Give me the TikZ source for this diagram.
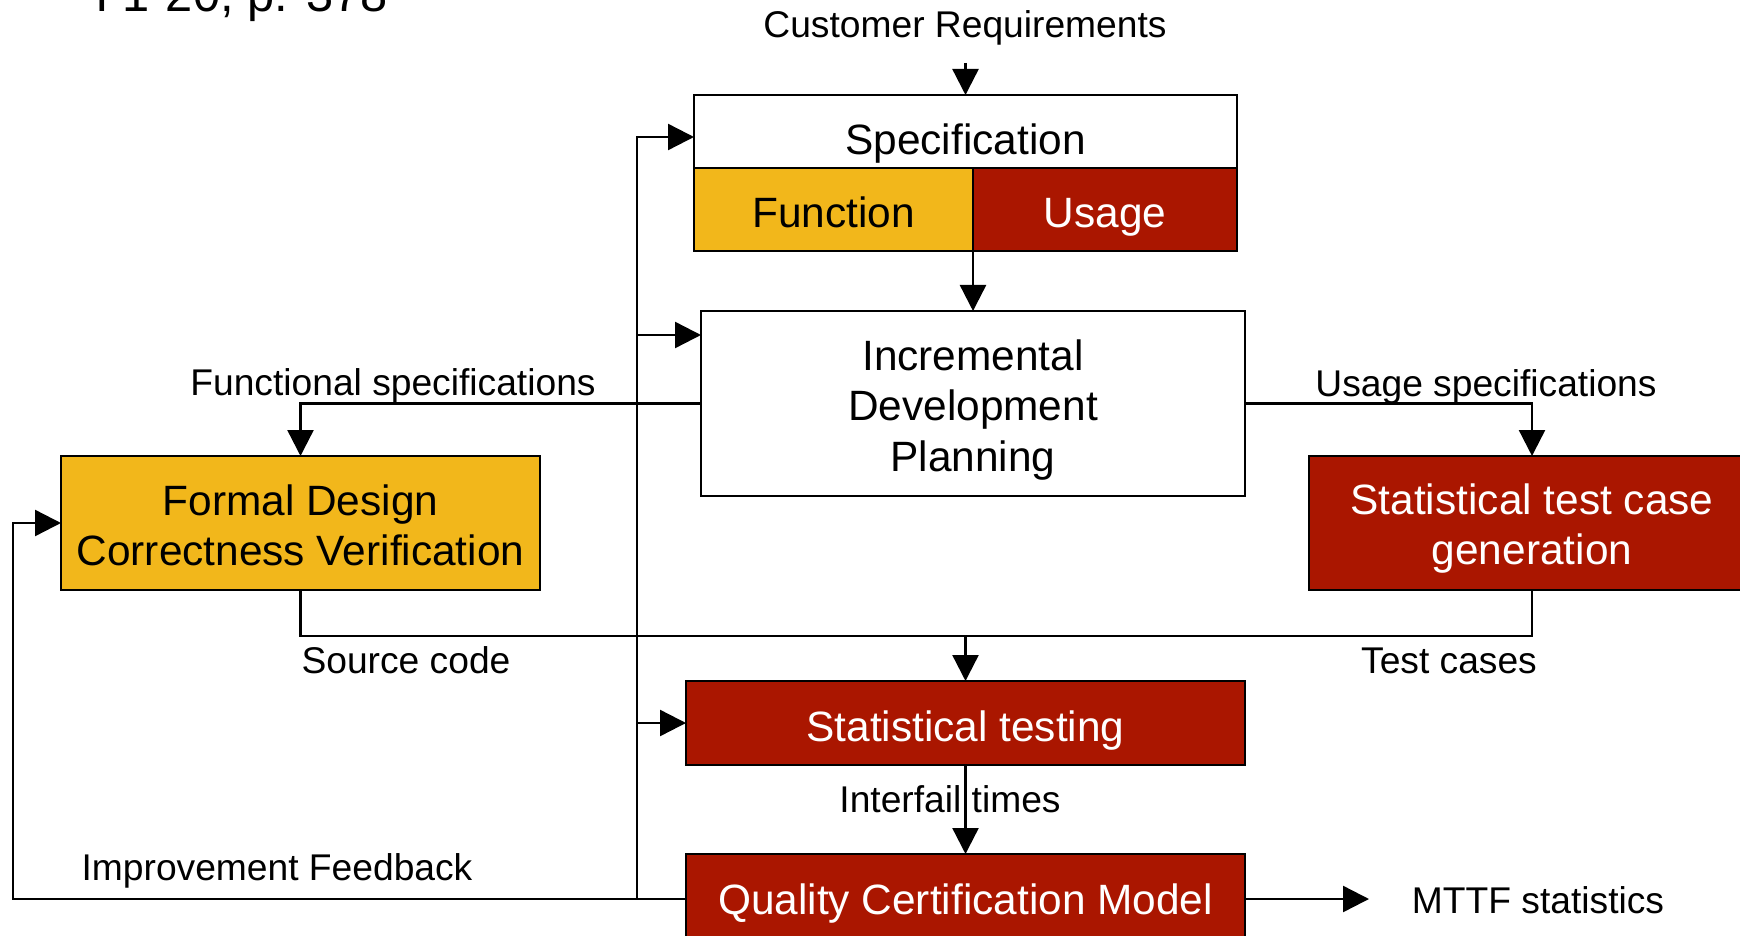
\documentclass[tikz,border=0pt]{standalone}
\usepackage{fontspec}
\setmainfont{Liberation Sans}
\usetikzlibrary{arrows.meta}
\definecolor{gold}{RGB}{242,183,27}
\definecolor{brick}{RGB}{170,22,0}

\begin{document}
\begin{tikzpicture}[x=0.5pt,y=-0.5pt,
  wire/.style={line width=1.2pt,line join=miter},
  flow/.style={wire,-{Triangle[length=13pt,width=13pt]}},
  box/.style={draw=black,line width=1.1pt,inner sep=0pt,outer sep=0pt,
    align=center,font=\fontsize{21.2}{25.25}\selectfont},
  onerow/.style={text height=30pt},
  goldbox/.style={box,fill=gold},
  redbox/.style={box,fill=brick,text=white},
  lbl/.style={inner sep=0pt,anchor=base,font=\fontsize{18.6}{22}\selectfont},
]
\useasboundingbox (0,0) rectangle (1740,936);
\clip (0,0) rectangle (1740,936);

% reference line, cut off at the top edge
\node[inner sep=0pt,anchor=base west,font=\fontsize{24.4}{29}\selectfont] (ref) at (95,12) {I 1-20, p. 378};

% specification block
\node[box,onerow,text depth=6.5pt,minimum width=271.5pt,minimum height=36.5pt] (spectop) at (965.5,131.5) {Specification};
\node[goldbox,onerow,text depth=11.5pt,minimum width=139.5pt,minimum height=41.5pt] (func) at (833.5,209.5) {Function};
\node[redbox,onerow,text depth=11.5pt,minimum width=132pt,minimum height=41.5pt] (usage) at (1105,209.5) {Usage};

% planning and the two parallel branches (a tall strut on the first line lowers the text block)
\node[box,minimum width=272pt,minimum height=92.5pt] (idp) at (973,403.5) {\rule{0pt}{21.5pt}Incremental\\Development\\Planning};
\node[goldbox,minimum width=239.5pt,minimum height=67pt] (fdcv) at (300.5,523) {\rule{0pt}{17.7pt}Formal Design\\Correctness Verification};
\node[redbox,minimum width=223pt,minimum height=67pt] (stcg) at (1532,523) {\rule{0pt}{21pt}Statistical test case\\generation};

% testing and certification
\node[redbox,onerow,text depth=12pt,minimum width=279.5pt,minimum height=42pt] (st) at (965.5,723) {Statistical testing};
\node[redbox,onerow,text depth=15pt,minimum width=279.5pt,minimum height=45pt] (qcm) at (965.5,899) {Quality Certification Model};

% free ends and junctions
\coordinate (crTop) at (965.5,63);
\coordinate (join) at (965.5,636);
\coordinate (busTop) at (637,137);
\coordinate (busIdp) at (637,335);
\coordinate (fbLeft) at (13,899);
\coordinate (mttfEnd) at (1369,899);

% connectors
\draw[flow] (crTop) -- (spectop.north);
\draw[flow] (func.south east) -- (idp.north);
\draw[flow] (idp.west) -| (fdcv.north);
\draw[flow] (idp.east) -| (stcg.north);
\draw[wire] (fdcv.south) |- (join) -| (stcg.south);
\draw[flow] (join) -- (st.north);
\draw[flow] (st.south) -- (qcm.north);
\draw[flow] (qcm.east) -- (mttfEnd);
\draw[flow] (qcm.west) -| (busTop) -- (busTop -| spectop.west);
\draw[flow] (busIdp) -- (busIdp -| idp.west);
\draw[flow] (st.west -| busTop) -- (st.west);
\draw[flow] (qcm.west) -- (fbLeft) |- (fdcv.west);

% labels
\node[lbl] (lcr) at (965,38) {Customer Requirements};
\node[lbl] (lfs) at (393,395) {Functional specifications};
\node[lbl] (lus) at (1486,396) {Usage specifications};
\node[lbl] (lsc) at (406,673) {Source code};
\node[lbl] (ltc) at (1449,673) {Test cases};
\node[lbl] (lit) at (950,812) {Interfail times};
\node[lbl] (lif) at (277,880) {Improvement Feedback};
\node[lbl] (lmt) at (1538,913) {MTTF statistics};
\end{tikzpicture}
\end{document}
